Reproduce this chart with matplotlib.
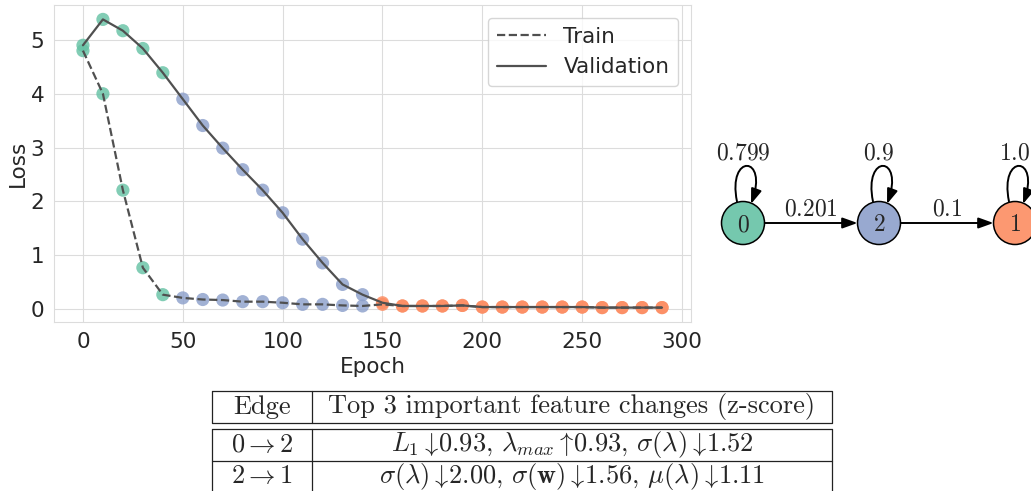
import matplotlib
matplotlib.use("Agg")
import matplotlib.pyplot as plt
import seaborn as sns
import numpy as np
from matplotlib.colors import to_rgba
from matplotlib.patches import Circle, FancyArrowPatch
from matplotlib.path import Path

sns.set_style("whitegrid")
plt.rcParams['font.family'] = ['DejaVu Sans']
plt.rcParams['mathtext.fontset'] = 'cm'

# loss curves
epochs = np.arange(0, 300, 10)
train_loss = [4.80, 4.00, 2.21, 0.77, 0.27, 0.21, 0.18, 0.17, 0.14, 0.14,
              0.12, 0.09, 0.09, 0.07, 0.06, 0.09, 0.06, 0.06, 0.06, 0.07,
              0.04, 0.04, 0.04, 0.04, 0.04, 0.04, 0.03, 0.03, 0.03, 0.03]
val_loss = [4.90, 5.38, 5.17, 4.84, 4.39, 3.90, 3.41, 2.99, 2.59, 2.21,
            1.79, 1.30, 0.86, 0.46, 0.27, 0.12, 0.06, 0.06, 0.06, 0.07,
            0.04, 0.04, 0.04, 0.04, 0.04, 0.04, 0.03, 0.03, 0.03, 0.03]
# phase (state) of each epoch
phase = [0] * 5 + [2] * 10 + [1] * 15

# markov chain
states = [0, 2, 1]
self_prob = ['0.799', '0.9', '1.0']
trans_prob = ['0.201', '0.1']
state_colors = {0: '#66c2a5', 2: '#8da0cb', 1: '#fc8d62'}

# table
table_header = ['Edge', 'Top 3 important feature changes (z-score)']
table_edges = [r'$0 \rightarrow 2$', r'$2 \rightarrow 1$']
table_changes = [r'$L_1 \downarrow\!0.93$, $\lambda_{max} \uparrow\!0.93$, $\sigma(\lambda) \downarrow\!1.52$',
                 r'$\sigma(\lambda) \downarrow\!2.00$, $\sigma(\mathbf{w}) \downarrow\!1.56$, $\mu(\lambda) \downarrow\!1.11$']

fig = plt.figure(figsize=(10.31, 4.91), dpi=100)
W, H = 1031, 491
fs = 15.5

ax = fig.add_axes([54 / W, 1 - 322 / H, (691 - 54) / W, (322 - 5) / H])
pt_colors = [state_colors[p] for p in phase]
ax.scatter(epochs, train_loss, c=pt_colors, s=90, alpha=0.82, lw=0, zorder=2)
ax.scatter(epochs, val_loss, c=pt_colors, s=90, alpha=0.82, lw=0, zorder=2)
ax.plot(epochs, train_loss, '--', color='#505050', lw=1.6, label='Train', zorder=3)
ax.plot(epochs, val_loss, '-', color='#505050', lw=1.6, label='Validation', zorder=3)
ax.set_xticks([0, 50, 100, 150, 200, 250, 300])
ax.tick_params(labelsize=fs, colors='#262626')
ax.grid(color='#dcdcdc')
for sp in ax.spines.values():
    sp.set_color('#dcdcdc')
ax.set_xlabel('Epoch', fontsize=fs, color='#262626', labelpad=4)
ax.set_ylabel('Loss', fontsize=fs, color='#262626', labelpad=2)
ax.legend(loc='upper right', fontsize=fs, handlelength=2.3, labelcolor='#262626', borderaxespad=0.6)

# overlay in pixel coordinates for graph and table
ov = fig.add_axes([0, 0, 1, 1], facecolor='none')
ov.set_xlim(0, W)
ov.set_ylim(H, 0)
ov.axis('off')

r = 21.5
cy = 223
gfs = 17
astyle = '-|>,head_length=0.75,head_width=0.27'
xs = [743 + 136 * i for i in range(len(states))]
for i, s in enumerate(states):
    cx = xs[i]
    ov.add_patch(Circle((cx, cy), r, facecolor=to_rgba(state_colors[s], 0.9),
                        edgecolor='black', lw=1.1, zorder=3))
    ov.text(cx, cy + 1, '$%d$' % s, ha='center', va='center', fontsize=gfs, zorder=4)
    loop = Path([(cx - 6, cy - r), (cx - 16, cy - 70), (cx + 26, cy - 68), (cx + 8, cy - 19)],
                [Path.MOVETO, Path.CURVE4, Path.CURVE4, Path.CURVE4])
    ov.add_patch(FancyArrowPatch(path=loop, arrowstyle=astyle,
                                 mutation_scale=12, lw=1.4, color='black', zorder=2))
    ov.text(cx, 153, '$%s$' % self_prob[i], ha='center', va='center', fontsize=gfs)
for i, p in enumerate(trans_prob):
    x1, x2 = xs[i] + r, xs[i + 1] - r
    ov.add_patch(FancyArrowPatch((x1, cy), (x2, cy), arrowstyle=astyle,
                                 mutation_scale=12, lw=1.4, color='black', shrinkA=0, shrinkB=0))
    ov.text((x1 + x2) / 2, 209, '$%s$' % p, ha='center', va='center', fontsize=gfs)

# table lines
lc = dict(color='#222222', lw=0.9)
L, R, C = 212, 832, 312
tfs = 19
ov.plot([L, R, R, L, L], [391, 391, 423, 423, 391], **lc)
ov.plot([C, C], [391, 423], **lc)
ov.plot([L, R], [429, 429], **lc)
ov.plot([L, R], [461, 461], **lc)
ov.plot([L, L], [429, H], **lc)
ov.plot([R, R], [429, H], **lc)
ov.plot([C, C], [429, H], **lc)
ov.text((L + C) / 2, 407, table_header[0], family='cmr10', fontsize=tfs, ha='center', va='center')
ov.text((C + R) / 2, 407, table_header[1], family='cmr10', fontsize=tfs, ha='center', va='center')
rows_y = [445, 476]
for i in range(len(table_edges)):
    ov.text((L + C) / 2, rows_y[i], table_edges[i], fontsize=tfs, ha='center', va='center')
    ov.text((C + R) / 2, rows_y[i], table_changes[i], family='cmr10', fontsize=tfs, ha='center', va='center')

fig.savefig('out.png', dpi=100)
